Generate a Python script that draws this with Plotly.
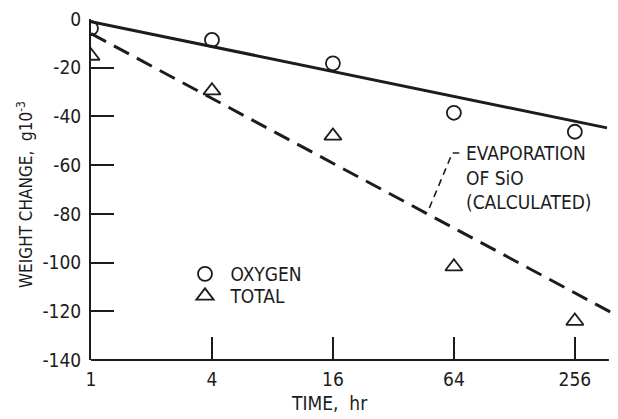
import numpy as np
import plotly.graph_objects as go

# ---- data ----
time_hr = [1, 4, 16, 64, 256]
oxygen = [-3.8, -8.6, -18.2, -38.5, -46.3]
total = [-15.2, -29.4, -48.0, -101.7, -124.0]

# fitted lines (endpoints)
oxy_fit_x = [1, 370]
oxy_fit_y = [-1.1, -44.7]
evap_x = [1, 410]
evap_y = [-6.0, -121.5]

# leader line of the "EVAPORATION OF SiO" note
leader_x = [48.3, 62.9, 68.1]
leader_y = [-77.6, -55.0, -55.0]
note_lines = ["EVAPORATION", "OF SiO", "(CALCULATED)"]
note_x = 72.0
note_y = [-55.0, -65.3, -75.3]

x_ticks = [1, 4, 16, 64, 256]
y_ticks = [0, -20, -40, -60, -80, -100, -120, -140]
x_axis_end = 378

FONT = "DejaVu Sans Condensed, Liberation Sans Narrow, sans-serif"
INK = "#1c1c1c"

W, H = 618, 419
L, R, T, B = 91, 1, 19, 59
PW, PH = W - L - R, H - T - B
X_RANGE = [0, np.log10(415)]


def px_x(p):
    return (p - L) / PW


def px_y(p):
    return 1 - (p - T) / PH


fig = go.Figure()

fig.add_trace(go.Scatter(x=oxy_fit_x, y=oxy_fit_y, mode="lines",
                         line=dict(color=INK, width=3), showlegend=False, hoverinfo="skip"))
fig.add_trace(go.Scatter(x=evap_x, y=evap_y, mode="lines",
                         line=dict(color=INK, width=3, dash="17px,9px"), showlegend=False, hoverinfo="skip"))
fig.add_trace(go.Scatter(x=leader_x, y=leader_y, mode="lines",
                         line=dict(color=INK, width=1.6, dash="7px,5px"), showlegend=False, hoverinfo="skip"))

fig.add_trace(go.Scatter(x=time_hr, y=oxygen, mode="markers", name=" OXYGEN", legend="legend",
                         marker=dict(symbol="circle-open", size=14, color=INK, line=dict(width=1.8, color=INK))))
fig.add_trace(go.Scatter(x=time_hr, y=total, mode="markers", name=" TOTAL", legend="legend2",
                         marker=dict(symbol="triangle-up-open", size=15, color=INK, line=dict(width=1.8, color=INK))))

for txt, yy in zip(note_lines, note_y):
    fig.add_annotation(x=np.log10(note_x), y=yy, xref="x", yref="y", text=txt, showarrow=False,
                       xanchor="left", yanchor="middle", font=dict(family=FONT, size=19, color=INK))

# axis titles
fig.add_annotation(x=px_x(329), y=px_y(403), xref="paper", yref="paper", text="TIME,  hr", showarrow=False,
                   xanchor="center", yanchor="middle", font=dict(family=FONT, size=19, color=INK))
fig.add_annotation(x=px_x(25), y=px_y(195), xref="paper", yref="paper",
                   text="WEIGHT CHANGE,  g10<sup>-3</sup>", showarrow=False,
                   xanchor="center", yanchor="middle",
                   textangle=-90, font=dict(family=FONT, size=17, color=INK))

# bottom axis line (ends short of the plot's right edge, as in the original)
axis_end_frac = (np.log10(x_axis_end) - X_RANGE[0]) / (X_RANGE[1] - X_RANGE[0])
fig.add_shape(type="line", xref="paper", yref="paper", x0=0, x1=axis_end_frac, y0=0, y1=0,
              line=dict(color=INK, width=2))

leg_common = dict(xanchor="left", yanchor="top", bgcolor="rgba(0,0,0,0)",
                  font=dict(family=FONT, size=19, color=INK), itemsizing="trace")

fig.update_layout(
    width=W, height=H,
    margin=dict(l=L, r=R, t=T, b=B),
    paper_bgcolor="white", plot_bgcolor="white",
    font=dict(family=FONT, size=19, color=INK),
    showlegend=True,
    legend=dict(x=px_x(185), y=px_y(255), **leg_common),
    legend2=dict(x=px_x(185), y=px_y(277), **leg_common),
    xaxis=dict(type="log", range=X_RANGE, tickvals=x_ticks, ticktext=[str(v) for v in x_ticks],
               ticks="inside", ticklen=23, tickwidth=1.6, tickcolor=INK, showgrid=False, zeroline=False,
               showline=False, ticklabelstandoff=6, tickfont=dict(family=FONT, size=19, color=INK)),
    yaxis=dict(range=[-140, 0], tickvals=y_ticks, ticktext=[str(v) for v in y_ticks],
               ticks="inside", ticklen=23, tickwidth=1.6, tickcolor=INK, showgrid=False, zeroline=False,
               showline=True, linecolor=INK, linewidth=2, ticklabelstandoff=4,
               tickfont=dict(family=FONT, size=19, color=INK)),
)

fig.write_html("out.html")
